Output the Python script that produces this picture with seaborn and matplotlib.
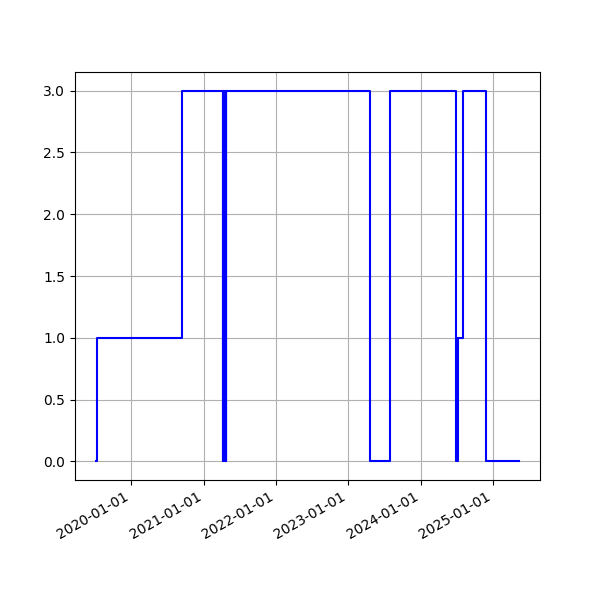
import pandas as pd
import matplotlib
matplotlib.use("Agg")
import matplotlib.pyplot as plt
import matplotlib.dates as mdates
import seaborn as sns

# change points of the state series
dates = [
    "2019-07-09", "2019-07-11", "2020-09-14",
    "2021-04-08", "2021-04-10", "2021-04-12", "2021-04-14", "2021-04-16",
    "2021-04-18", "2021-04-20", "2021-04-22", "2021-04-24", "2021-04-25",
    "2023-04-23", "2023-08-02",
    "2024-06-30", "2024-07-02", "2024-07-03", "2024-07-04", "2024-07-05",
    "2024-07-06", "2024-08-03", "2024-11-26", "2025-05-11",
]
states = [
    0, 1, 3,
    0, 3, 0, 3, 0,
    3, 0, 3, 0, 3,
    0, 3,
    0, 1, 0, 1, 0,
    1, 3, 0, 0,
]

df = pd.DataFrame({"date": pd.to_datetime(dates), "state": states})

fig, ax = plt.subplots(figsize=(6, 6), dpi=100)
sns.lineplot(data=df, x="date", y="state", color="blue", drawstyle="steps-post",
             estimator=None, linewidth=1.5, ax=ax)
ax.set_xlabel("")
ax.set_ylabel("")
ax.xaxis.set_major_locator(mdates.YearLocator())
ax.xaxis.set_major_formatter(mdates.DateFormatter("%Y-%m-%d"))
ax.grid(True)
fig.autofmt_xdate()
fig.savefig("out.png")
